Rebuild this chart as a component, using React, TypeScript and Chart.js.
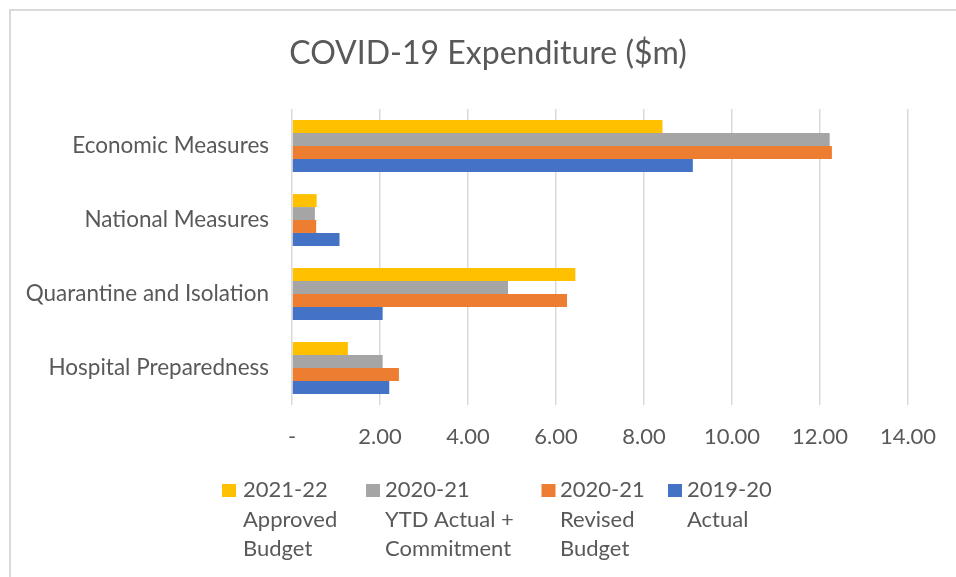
import React, { useEffect, useRef } from "react";
import { Chart, registerables } from "chart.js";

Chart.register(...registerables);

const chartTitle = "COVID-19 Expenditure ($m)";
const categories = [
  "Economic Measures",
  "National Measures",
  "Quarantine and Isolation",
  "Hospital Preparedness",
];
const seriesNames = [
  ["2021-22", "Approved", "Budget"],
  ["2020-21", "YTD Actual +", "Commitment"],
  ["2020-21", "Revised", "Budget"],
  ["2019-20", "Actual"],
];
const approved2122 = [8.42, 0.56, 6.44, 1.27];
const ytdCommit2021 = [12.22, 0.52, 4.91, 2.06];
const revised2021 = [12.27, 0.55, 6.25, 2.43];
const actual1920 = [9.11, 1.08, 2.06, 2.21];
const xTickLabels = ["-", "2.00", "4.00", "6.00", "8.00", "10.00", "12.00", "14.00"];
const seriesColors = ["#FFC000", "#A5A5A5", "#ED7D31", "#4472C4"];

const FONT = "Lato";
const TEXT = "#595959";

const legendBoxX = [222, 366, 541.5, 668];
const legendTextX = [243, 385, 560, 687];

const decorPlugin = {
  id: "decor",
  afterDraw(chart: any) {
    const ctx = chart.ctx as CanvasRenderingContext2D;
    ctx.save();
    // frame (top & left visible)
    ctx.strokeStyle = "#d9d9d9";
    ctx.lineWidth = 2;
    ctx.beginPath();
    ctx.moveTo(10, 600);
    ctx.lineTo(10, 10);
    ctx.lineTo(980, 10);
    ctx.stroke();
    // title
    ctx.fillStyle = TEXT;
    ctx.font = `32px ${FONT}`;
    ctx.textAlign = "center";
    ctx.textBaseline = "alphabetic";
    ctx.fillText(chartTitle, 488, 64);
    // legend
    ctx.font = `22px ${FONT}`;
    ctx.textAlign = "left";
    const ds = chart.data.datasets;
    ds.forEach((d: any, i: number) => {
      ctx.fillStyle = d.backgroundColor;
      ctx.fillRect(legendBoxX[i], 484, 14, 13);
      ctx.fillStyle = TEXT;
      const lines: string[] = d.label;
      lines.forEach((ln, j) => {
        ctx.fillText(ln, legendTextX[i], 497 + j * 29.5);
      });
    });
    ctx.restore();
  },
};

export default function App() {
  const ref = useRef<HTMLCanvasElement | null>(null);
  useEffect(() => {
    if (!ref.current) return;
    const datasets = [approved2122, ytdCommit2021, revised2021, actual1920].map((vals, i) => ({
      label: seriesNames[i] as any,
      data: vals,
      backgroundColor: seriesColors[i],
      borderWidth: 0,
      categoryPercentage: 0.7,
      barPercentage: 1.0,
    }));
    const chart = new Chart(ref.current, {
      type: "bar",
      data: { labels: categories, datasets },
      options: {
        indexAxis: "y",
        animation: false,
        responsive: false,
        devicePixelRatio: 1,
        layout: { padding: { top: 109, right: 48, bottom: 112, left: 0 } },
        plugins: {
          legend: { display: false },
          title: { display: false },
          tooltip: { enabled: false },
        },
        scales: {
          x: {
            min: 0,
            max: 14,
            border: { display: false },
            grid: { color: "#d9d9d9", lineWidth: 1.5, drawTicks: false },
            ticks: {
              stepSize: 2,
              padding: 19,
              color: TEXT,
              font: { family: FONT, size: 22 },
              maxRotation: 0,
              callback: (_v: any, idx: number) => xTickLabels[idx],
            },
            afterFit: (s: any) => {
              s.height = 60;
            },
          },
          y: {
            border: { display: false },
            grid: { display: false, drawTicks: false },
            ticks: {
              padding: 23,
              color: TEXT,
              font: { family: FONT, size: 22.5 },
            },
            afterFit: (s: any) => {
              s.width = 292;
            },
          },
        },
      },
      plugins: [decorPlugin],
    } as any);
    return () => chart.destroy();
  }, []);
  return (
    <div style={{ position: "fixed", left: 0, top: 0, width: 956, height: 577, overflow: "hidden", background: "#fff" }}>
      <canvas ref={ref} width={956} height={577} style={{ display: "block" }} />
    </div>
  );
}
